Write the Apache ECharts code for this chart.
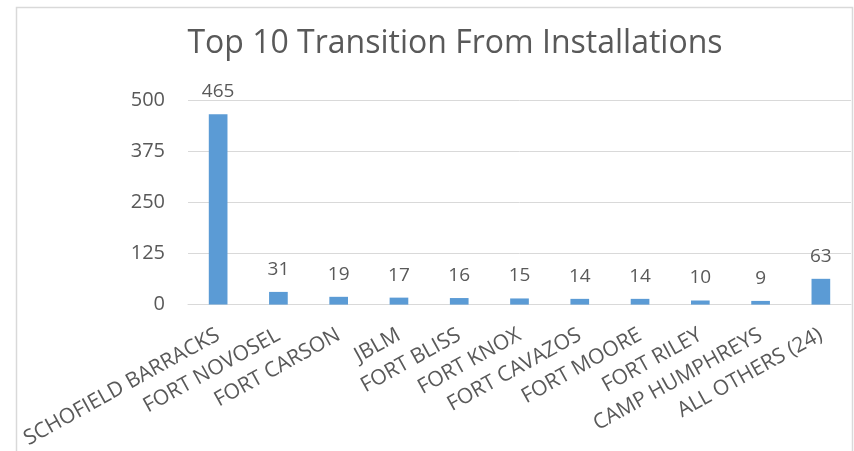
<!DOCTYPE html>
<html>
<head>
<meta charset="utf-8">
<script src="https://cdn.jsdelivr.net/npm/echarts@6/dist/echarts.min.js"></script>
<style>
  html, body { margin: 0; padding: 0; background: #fff; }
  #chart { width: 854px; height: 451px; }
</style>
</head>
<body>
<div id="chart"></div>
<script>
// installations, left to right
const categories = [
  'SCHOFIELD BARRACKS', 'FORT NOVOSEL', 'FORT CARSON', 'JBLM', 'FORT BLISS',
  'FORT KNOX', 'FORT CAVAZOS', 'FORT MOORE', 'FORT RILEY', 'CAMP HUMPHREYS',
  'ALL OTHERS (24)'
];
const counts = [465, 31, 19, 17, 16, 15, 14, 14, 10, 9, 63];
const yTicks = [0, 125, 250, 375, 500];

const FONT = '"Open Sans", sans-serif';
const TEXT = '#595959';

const chart = echarts.init(document.getElementById('chart'));
chart.setOption({
  animation: false,
  backgroundColor: '#fff',
  graphic: [{
    type: 'rect',
    shape: { x: 16.5, y: 7.5, width: 836, height: 470 },
    style: { fill: 'none', stroke: '#d9d9d9', lineWidth: 1.5 },
    silent: true
  }],
  title: {
    text: 'Top 10 Transition From Installations',
    left: 450,
    textAlign: 'center',
    top: 23,
    textStyle: { fontFamily: FONT, fontSize: 32, fontWeight: 'normal', color: TEXT }
  },
  grid: { left: 188, right: 3, top: 100, bottom: 145, containLabel: false },
  xAxis: {
    type: 'category',
    data: categories,
    axisTick: { show: false },
    axisLine: { lineStyle: { color: '#d9d9d9' } },
    axisLabel: {
      rotate: 29,
      interval: 0,
      margin: 29,
      fontFamily: FONT,
      fontSize: 21,
      color: TEXT
    }
  },
  yAxis: {
    type: 'value',
    min: yTicks[0],
    max: yTicks[yTicks.length - 1],
    interval: 125,
    axisLine: { show: false },
    axisTick: { show: false },
    splitLine: { lineStyle: { color: '#d9d9d9' } },
    axisLabel: { fontFamily: FONT, fontSize: 20, color: TEXT, margin: 23 }
  },
  series: [{
    type: 'bar',
    data: counts,
    barWidth: '31%',
    itemStyle: { color: '#5b9bd5' },
    label: {
      show: true,
      position: 'top',
      distance: 13,
      fontFamily: FONT,
      fontSize: 19,
      color: TEXT
    }
  }]
});
</script>
</body>
</html>
